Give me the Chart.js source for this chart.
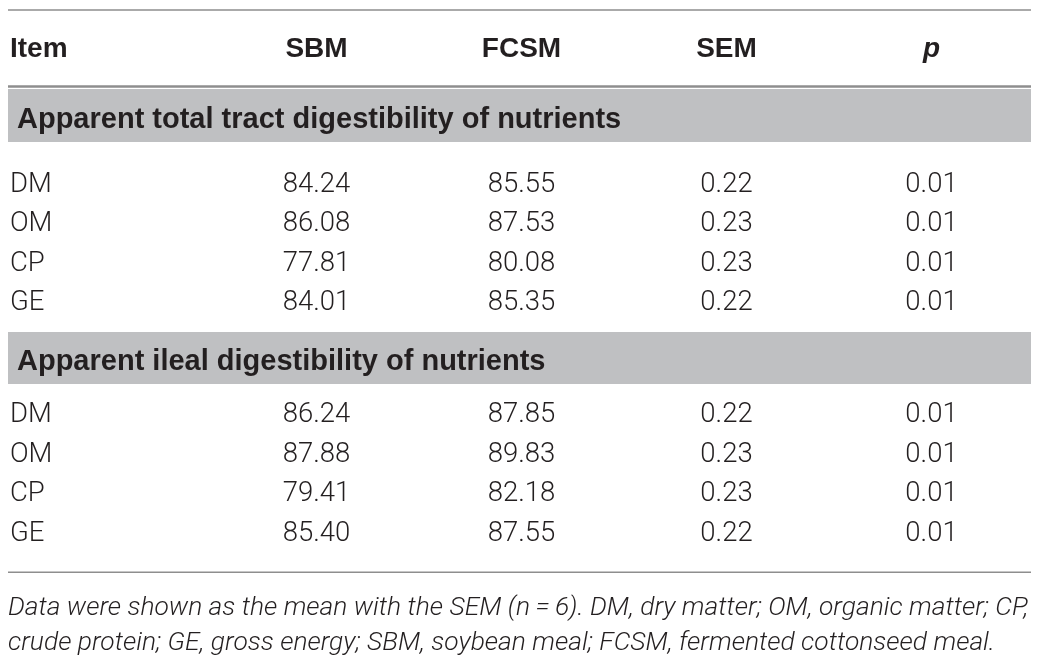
<!DOCTYPE html>
<html lang="en">
<head>
  <meta charset="UTF-8" />
  <title>Apparent digestibility of nutrients</title>
  <script src="https://cdn.jsdelivr.net/npm/chart.js"></script>
  <style>
    body {
      margin: 0;
      background: #fff;
    }
    .wrap {
      position: relative;
      width: 1040px;
      height: 666px;
    }
  </style>
</head>
<body>
  <div class="wrap"><canvas id="tbl"></canvas></div>

  <script>
// table content
const columns = ['Item', 'SBM', 'FCSM', 'SEM', 'p'];
const items = ['DM', 'OM', 'CP', 'GE'];
const sections = [
  'Apparent total tract digestibility of nutrients',
  'Apparent ileal digestibility of nutrients'
];

const totalSBM = [84.24, 86.08, 77.81, 84.01];
const totalFCSM = [85.55, 87.53, 80.08, 85.35];
const totalSEM = [0.22, 0.23, 0.23, 0.22];
const totalP = [0.01, 0.01, 0.01, 0.01];

const ilealSBM = [86.24, 87.88, 79.41, 85.40];
const ilealFCSM = [87.85, 89.83, 82.18, 87.55];
const ilealSEM = [0.22, 0.23, 0.23, 0.22];
const ilealP = [0.01, 0.01, 0.01, 0.01];

const notes = [
  'Data were shown as the mean with the SEM (n\u2009=\u20096). DM, dry matter; OM, organic matter; CP,',
  'crude protein; GE, gross energy; SBM, soybean meal; FCSM, fermented cottonseed meal.'
];

const BOLD = '"Liberation Sans", Arial, sans-serif';
const LIGHT = 'Roboto, "Liberation Sans", sans-serif';
const INK = '#231f20';

// one invisible scatter set per column; the plugin writes the text at each point
function cells(axis, kind, col, rows, values) {
  return {
    kind: kind,
    yAxisID: axis,
    pointRadius: 0,
    data: rows.map((r, i) => ({ x: col, y: r, t: values[i] }))
  };
}

const datasets = [
  { kind: 'head', yAxisID: 'yHead', pointRadius: 0, data: columns.map(c => ({ x: c, y: 'head', t: c })) },
  cells('yBand1', 'band', 'Item', ['band'], [sections[0]]),
  cells('yBlock1', 'item', 'Item', items, items),
  cells('yBlock1', 'num', 'SBM', items, totalSBM),
  cells('yBlock1', 'num', 'FCSM', items, totalFCSM),
  cells('yBlock1', 'num', 'SEM', items, totalSEM),
  cells('yBlock1', 'num', 'p', items, totalP),
  cells('yBand2', 'band', 'Item', ['band'], [sections[1]]),
  cells('yBlock2', 'item', 'Item', items, items),
  cells('yBlock2', 'num', 'SBM', items, ilealSBM),
  cells('yBlock2', 'num', 'FCSM', items, ilealFCSM),
  cells('yBlock2', 'num', 'SEM', items, ilealSEM),
  cells('yBlock2', 'num', 'p', items, ilealP),
  cells('yFoot', 'note', 'Item', ['n0', 'n1'], notes)
];

// rows are stacked scales on the right, top to bottom in this order
function rowAxis(labels, weight) {
  return {
    type: 'category', labels: labels, offset: true, display: false,
    position: 'right', stack: 'rows', stackWeight: weight
  };
}
function gapAxis(weight) {
  return { type: 'linear', display: false, position: 'right', stack: 'rows', stackWeight: weight };
}

const tablePainter = {
  id: 'tablePainter',
  beforeDatasetsDraw(chart) {
    const { ctx, chartArea, scales } = chart;
    const L = chartArea.left - 1, R = chartArea.right - 3;
    ctx.save();
    ctx.fillStyle = '#bfc0c2';
    [scales.yBand1, scales.yBand2].forEach(s => ctx.fillRect(L, s.top, R - L, s.bottom - s.top));
    ctx.strokeStyle = '#8e8e8e';
    const rule = (y, w) => {
      ctx.lineWidth = w;
      ctx.beginPath();
      ctx.moveTo(L, y);
      ctx.lineTo(R, y);
      ctx.stroke();
    };
    rule(scales.yHead.top, 1.5);
    rule(scales.yHead.bottom - 2.5, 2.5);
    rule((scales.yRule.top + scales.yRule.bottom) / 2, 1.5);
    ctx.restore();
  },
  afterDatasetsDraw(chart) {
    const { ctx, scales } = chart;
    const left = scales.x.left;
    ctx.save();
    ctx.fillStyle = INK;
    ctx.textBaseline = 'middle';

    // footnote size fitted to the table width
    ctx.font = 'italic 300 20px ' + LIGHT;
    const noteSize = 20 * (scales.x.right - scales.x.left - 4) / ctx.measureText(notes[0]).width;

    chart.data.datasets.forEach((ds, di) => {
      const meta = chart.getDatasetMeta(di);
      meta.data.forEach((el, i) => {
        const raw = ds.data[i];
        const text = typeof raw.t === 'number' ? raw.t.toFixed(2) : raw.t;
        let x = el.x, y = el.y, align = 'center';
        if (ds.kind === 'head') {
          ctx.font = (raw.t === 'p' ? 'italic ' : '') + 'bold 28px ' + BOLD;
          if (raw.x === 'Item') { x = left + 1; align = 'left'; }
        } else if (ds.kind === 'band') {
          ctx.font = 'bold 29px ' + BOLD;
          x = left + 8; y += 4; align = 'left';
        } else if (ds.kind === 'item') {
          ctx.font = '300 27.5px ' + LIGHT;
          x = left + 1; align = 'left';
        } else if (ds.kind === 'num') {
          ctx.font = '300 27.5px ' + LIGHT;
        } else {
          ctx.font = 'italic 300 ' + noteSize.toFixed(2) + 'px ' + LIGHT;
          x = left - 1; align = 'left';
        }
        ctx.textAlign = align;
        ctx.fillText(text, x, y);
      });
    });
    ctx.restore();
  }
};

new Chart(document.getElementById('tbl'), {
  type: 'scatter',
  data: { datasets: datasets },
  options: {
    responsive: true,
    maintainAspectRatio: false,
    animation: false,
    events: [],
    layout: { padding: { left: 9, right: 6, top: 10, bottom: 0 } },
    plugins: { legend: { display: false }, tooltip: { enabled: false } },
    scales: {
      x: { type: 'category', labels: columns, offset: true, display: false },
      yHead: rowAxis(['head'], 79),
      yBand1: rowAxis(['band'], 53),
      yGap1: gapAxis(23.25),
      yBlock1: rowAxis(items, 158),
      yGap2: gapAxis(8.75),
      yBand2: rowAxis(['band'], 52),
      yGap3: gapAxis(11.75),
      yBlock2: rowAxis(items, 158),
      yRule: gapAxis(36.75),
      yFoot: rowAxis(['n0', 'n1'], 70),
      yTail: gapAxis(5.5)
    }
  },
  plugins: [tablePainter]
});
</script>
</body>
</html>
